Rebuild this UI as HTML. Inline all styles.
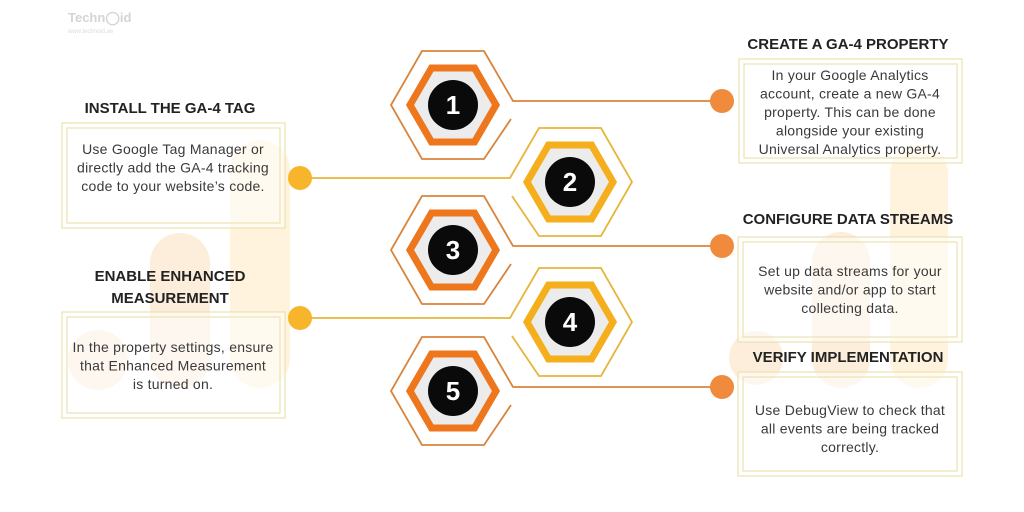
<!DOCTYPE html>
<html><head><meta charset="utf-8"><style>
html,body{margin:0;padding:0;background:#fff;}
svg{display:block;font-family:"Liberation Sans",sans-serif;}
.t{font-weight:bold;font-size:15px;fill:#222;text-anchor:middle;}
.b{font-size:14px;letter-spacing:0.25px;fill:#3a3a3a;text-anchor:middle;}
.n{font-weight:bold;font-size:26px;fill:#fff;text-anchor:middle;}
</style></head><body>
<svg width="1024" height="512" viewBox="0 0 1024 512">
<g fill="#fdeedc">
<rect x="230" y="140" width="60" height="248" rx="30" fill="#fff3dd"/>
<rect x="150" y="233" width="60" height="155" rx="30"/>
<circle cx="98" cy="360" r="30"/>
<rect x="890" y="145" width="58" height="243" rx="29" fill="#fff3dd"/>
<rect x="812" y="232" width="58" height="156" rx="29"/>
<circle cx="756" cy="358" r="27"/>
</g>
<text x="68" y="22" font-size="13" font-weight="bold" fill="#d4d4d4">Techn◯id</text>
<text x="68" y="33" font-size="6" fill="#dcdcdc">www.technoid.ae</text>

<g fill="rgba(255,255,255,0.55)" stroke="#ece2b0" stroke-width="1.2">
<rect x="739" y="59" width="223" height="104"/><rect x="744" y="64" width="213" height="94" fill="none"/>
<rect x="738" y="237" width="224" height="105"/><rect x="743" y="242" width="214" height="95" fill="none"/>
<rect x="738" y="372" width="224" height="104"/><rect x="743" y="377" width="214" height="94" fill="none"/>
<rect x="62" y="123" width="223" height="105"/><rect x="67" y="128" width="213" height="95" fill="none"/>
<rect x="62" y="312" width="223" height="106"/><rect x="67" y="317" width="213" height="96" fill="none"/>
</g>

<text class="t" x="848" y="49">CREATE A GA-4 PROPERTY</text>
<text class="t" x="170" y="113">INSTALL THE GA-4 TAG</text>
<text class="t" x="848" y="224">CONFIGURE DATA STREAMS</text>
<text class="t" x="170" y="281">ENABLE ENHANCED</text>
<text class="t" x="170" y="303">MEASUREMENT</text>
<text class="t" x="848" y="362">VERIFY IMPLEMENTATION</text>

<text class="b" x="850" y="80">In your Google Analytics</text>
<text class="b" x="850" y="98.5">account, create a new GA-4</text>
<text class="b" x="850" y="117">property. This can be done</text>
<text class="b" x="850" y="135.5">alongside your existing</text>
<text class="b" x="850" y="154">Universal Analytics property.</text>
<text class="b" x="173" y="154">Use Google Tag Manager or</text>
<text class="b" x="173" y="172.5">directly add the GA-4 tracking</text>
<text class="b" x="173" y="191">code to your website’s code.</text>
<text class="b" x="850" y="276">Set up data streams for your</text>
<text class="b" x="850" y="294.5">website and/or app to start</text>
<text class="b" x="850" y="313">collecting data.</text>
<text class="b" x="173" y="352">In the property settings, ensure</text>
<text class="b" x="173" y="370.5">that Enhanced Measurement</text>
<text class="b" x="173" y="389">is turned on.</text>
<text class="b" x="850" y="415">Use DebugView to check that</text>
<text class="b" x="850" y="433.5">all events are being tracked</text>
<text class="b" x="850" y="452">correctly.</text>

<g fill="none" stroke="#d9843c" stroke-width="1.8">
<path d="M511,119 L484,159 L422,159 L391,105 L422,51 L484,51 L513,101 L722,101"/>
<path d="M511,264 L484,304 L422,304 L391,250 L422,196 L484,196 L513,246 L722,246"/>
<path d="M511,405 L484,445 L422,445 L391,391 L422,337 L484,337 L513,387 L722,387"/>
</g>
<g fill="none" stroke="#e6b53a" stroke-width="1.8">
<path d="M512,196 L539,236 L601,236 L632,182 L601,128 L539,128 L510,178 L300,178"/>
<path d="M512,336 L539,376 L601,376 L632,322 L601,268 L539,268 L510,318 L300,318"/>
</g>
<g fill="#f08a3c"><circle cx="722" cy="101" r="12"/><circle cx="722" cy="246" r="12"/><circle cx="722" cy="387" r="12"/></g>
<g fill="#f7b52c"><circle cx="300" cy="178" r="12"/><circle cx="300" cy="318" r="12"/></g>

<g stroke-width="7" fill="#ececec">
<path stroke="#ee761c" d="M410,105 L431.5,68 L474.5,68 L496,105 L474.5,142 L431.5,142Z"/>
<path stroke="#ee761c" d="M410,250 L431.5,213 L474.5,213 L496,250 L474.5,287 L431.5,287Z"/>
<path stroke="#ee761c" d="M410,391 L431.5,354 L474.5,354 L496,391 L474.5,428 L431.5,428Z"/>
<path stroke="#f5ae1c" d="M527,182 L548.5,145 L591.5,145 L613,182 L591.5,219 L548.5,219Z"/>
<path stroke="#f5ae1c" d="M527,322 L548.5,285 L591.5,285 L613,322 L591.5,359 L548.5,359Z"/>
</g>
<g fill="#0a0a0a">
<circle cx="453" cy="105" r="25"/><circle cx="570" cy="182" r="25"/><circle cx="453" cy="250" r="25"/><circle cx="570" cy="322" r="25"/><circle cx="453" cy="391" r="25"/>
</g>
<text class="n" x="453" y="114">1</text>
<text class="n" x="570" y="191">2</text>
<text class="n" x="453" y="259">3</text>
<text class="n" x="570" y="331">4</text>
<text class="n" x="453" y="400">5</text>
</svg>
</body></html>
